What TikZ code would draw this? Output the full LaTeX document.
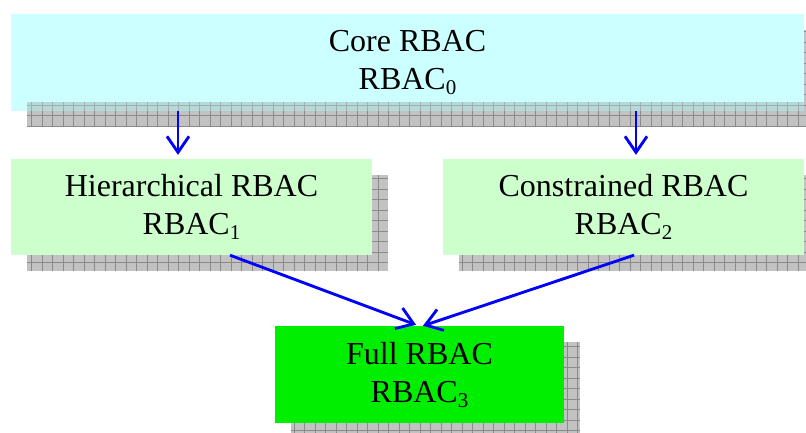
\documentclass[tikz,border=0pt]{standalone}
\usepackage{fontspec}
\setmainfont{Liberation Serif}
\usetikzlibrary{arrows.meta,backgrounds,calc}
\definecolor{corefill}{HTML}{CCFFFF}
\definecolor{midfill}{HTML}{CCFFCC}
\definecolor{fullfill}{HTML}{00EE00}
\definecolor{shfill}{HTML}{C2C2C2}
\definecolor{shgrid}{HTML}{8A8A8A}
\newcommand\sub[1]{\raisebox{-5pt}{\fontsize{21}{21}\selectfont #1}}
\newcommand\gridshadow[1]{%
  \begin{scope}
    \clip ([shift={(16pt,-16pt)}]#1.south west) rectangle ([shift={(16pt,-16pt)}]#1.north east);
    \fill[shfill] ([shift={(16pt,-16pt)}]#1.south west) rectangle ([shift={(16pt,-16pt)}]#1.north east);
    \draw[shgrid, line width=0.8pt, step=10.5pt] ([shift={(16pt,-16pt)}]#1.south west) grid ([shift={(16pt,-16pt)}]#1.north east);
  \end{scope}}
\tikzset{
  box/.style={inner sep=0pt, align=center, font=\fontsize{32}{38}\selectfont},
  arr/.style={draw=blue, line width=2.8pt, -{Straight Barb[length=16pt,width=22pt]}},
  sharr/.style={draw=gray!50, opacity=0.8, line width=2.8pt, -{Straight Barb[length=16pt,width=22pt]}},
}
\begin{document}
\begin{tikzpicture}[x=1pt,y=-1pt]
\useasboundingbox (0,0) rectangle (806,432);
\node[box, fill=corefill, minimum width=793pt, minimum height=97pt] (core) at (407.5,62.5) {Core RBAC\\RBAC\sub{0}};
\node[box, fill=midfill, minimum width=361pt, minimum height=96pt] (hier) at (191.5,207) {Hierarchical RBAC\\RBAC\sub{1}};
\node[box, fill=midfill, minimum width=361pt, minimum height=96pt] (cons) at (623.5,207) {Constrained RBAC\\RBAC\sub{2}};
\node[box, fill=fullfill, minimum width=289pt, minimum height=97pt] (full) at (419.5,374.5) {Full RBAC\\RBAC\sub{3}};
\begin{scope}[on background layer]
  \gridshadow{core}
  \gridshadow{hier}
  \gridshadow{cons}
  \gridshadow{full}
\end{scope}
% tinted band of the top shadow seen through the core box
\begin{scope}
  \clip ([xshift=16pt]core.south west) rectangle ([yshift=9pt]core.south east);
  \fill[gray, opacity=0.3] ([xshift=16pt]core.south west) rectangle ([yshift=9pt]core.south east);
  \draw[shgrid, opacity=0.5, line width=0.8pt, step=10.5pt] ([xshift=16pt]core.south west) grid ([yshift=9pt]core.south east);
\end{scope}
% connector anchor points
\coordinate (h-in) at ([xshift=-13.5pt,yshift=4pt]hier.north);
\coordinate (c-in) at ([xshift=12.5pt,yshift=4pt]cons.north);
\coordinate (h-out) at ([xshift=38.5pt]hier.south);
\coordinate (c-out) at ([xshift=10.5pt]cons.south);
\coordinate (f-inl) at ([xshift=-3.5pt,yshift=1pt]full.north);
\coordinate (f-inr) at ([xshift=3.5pt]full.north);
% shadow arrows
\begin{scope}[shift={(4,3)}]
  \draw[sharr] (h-in |- core.south) -- (h-in);
  \draw[sharr] (c-in |- core.south) -- (c-in);
  \draw[sharr] (h-out) -- (f-inl);
  \draw[sharr] (c-out) -- (f-inr);
\end{scope}
% arrows
\draw[arr] (h-in |- core.south) -- (h-in);
\draw[arr] (c-in |- core.south) -- (c-in);
\draw[arr] (h-out) -- (f-inl);
\draw[arr] (c-out) -- (f-inr);
\end{tikzpicture}
\end{document}
